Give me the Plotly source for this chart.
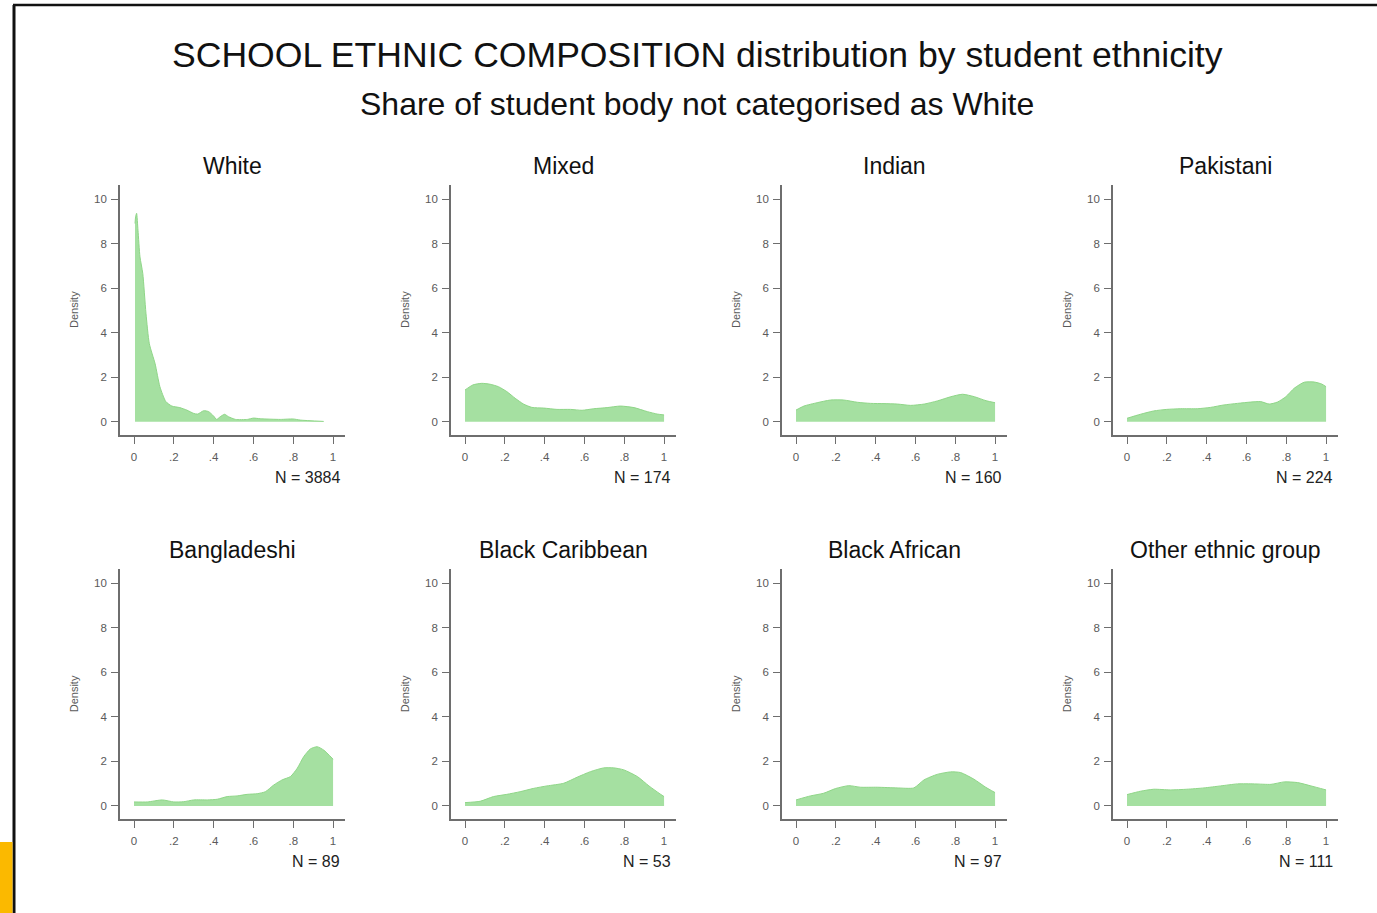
import plotly.graph_objects as go

# ---------------- data ----------------
groups = ["White", "Mixed", "Indian", "Pakistani",
          "Bangladeshi", "Black Caribbean", "Black African", "Other ethnic group"]
n_labels = ["N = 3884", "N = 174", "N = 160", "N = 224",
            "N = 89", "N = 53", "N = 97", "N = 111"]

white_x = [0.005, 0.008, 0.013, 0.02, 0.03, 0.044, 0.06, 0.077, 0.106, 0.13, 0.16, 0.19, 0.23,
           0.265, 0.30, 0.32, 0.35, 0.375, 0.40, 0.415, 0.433, 0.455, 0.475, 0.51, 0.57,
           0.60, 0.634, 0.735, 0.80, 0.835, 0.953]
white_y = [8.9, 9.2, 9.36, 8.6, 7.4, 6.66, 4.87, 3.5, 2.6, 1.57, 0.9, 0.7, 0.63,
           0.52, 0.37, 0.34, 0.49, 0.45, 0.25, 0.1, 0.22, 0.33, 0.22, 0.1, 0.1,
           0.16, 0.13, 0.1, 0.12, 0.07, 0.01]

mixed_x = [0.0, 0.04, 0.084, 0.126, 0.168, 0.21, 0.252, 0.294, 0.336, 0.395, 0.462, 0.53,
           0.588, 0.647, 0.714, 0.78, 0.849, 0.916, 0.966, 1.0]
mixed_y = [1.42, 1.65, 1.72, 1.68, 1.57, 1.35, 1.05, 0.79, 0.64, 0.61, 0.55, 0.55,
           0.51, 0.58, 0.63, 0.70, 0.63, 0.45, 0.34, 0.30]

indian_x = [0.0, 0.04, 0.106, 0.173, 0.24, 0.308, 0.375, 0.442, 0.51, 0.576, 0.644, 0.71,
            0.778, 0.837, 0.896, 0.955, 1.0]
indian_y = [0.52, 0.70, 0.85, 0.97, 0.97, 0.87, 0.82, 0.81, 0.79, 0.73, 0.79, 0.93,
            1.12, 1.23, 1.12, 0.94, 0.85]

pakistani_x = [0.0, 0.067, 0.134, 0.2, 0.27, 0.353, 0.42, 0.487, 0.555, 0.622, 0.672, 0.714,
               0.756, 0.798, 0.84, 0.89, 0.94, 0.978, 1.0]
pakistani_y = [0.15, 0.33, 0.48, 0.55, 0.58, 0.58, 0.64, 0.75, 0.82, 0.88, 0.90, 0.79,
               0.88, 1.12, 1.50, 1.77, 1.78, 1.69, 1.57]

bangladeshi_x = [0.0, 0.067, 0.142, 0.2, 0.25, 0.3, 0.368, 0.418, 0.468, 0.518, 0.568, 0.619,
                 0.66, 0.702, 0.744, 0.786, 0.82, 0.853, 0.886, 0.92, 0.953, 1.0]
bangladeshi_y = [0.18, 0.18, 0.27, 0.18, 0.19, 0.27, 0.27, 0.30, 0.42, 0.45, 0.52, 0.55,
                 0.64, 0.94, 1.17, 1.32, 1.69, 2.22, 2.56, 2.66, 2.51, 2.10]

blackcar_x = [0.0, 0.076, 0.143, 0.21, 0.277, 0.345, 0.412, 0.496, 0.563, 0.63, 0.697, 0.748,
              0.798, 0.866, 0.924, 0.975, 1.0]
blackcar_y = [0.15, 0.21, 0.42, 0.52, 0.64, 0.79, 0.90, 1.02, 1.29, 1.54, 1.71, 1.71,
              1.62, 1.32, 0.90, 0.57, 0.42]

blackafr_x = [0.0, 0.072, 0.139, 0.198, 0.265, 0.324, 0.408, 0.508, 0.592, 0.643, 0.71, 0.777,
              0.827, 0.894, 0.953, 1.0]
blackafr_y = [0.27, 0.45, 0.57, 0.78, 0.91, 0.84, 0.84, 0.81, 0.81, 1.17, 1.42, 1.53,
              1.50, 1.20, 0.84, 0.60]

other_x = [0.0, 0.067, 0.134, 0.218, 0.3, 0.387, 0.47, 0.555, 0.64, 0.723, 0.79, 0.857,
           0.924, 1.0]
other_y = [0.51, 0.66, 0.75, 0.72, 0.75, 0.81, 0.90, 0.99, 0.99, 0.97, 1.08, 1.05,
           0.90, 0.72]

series_x = [white_x, mixed_x, indian_x, pakistani_x, bangladeshi_x, blackcar_x, blackafr_x, other_x]
series_y = [white_y, mixed_y, indian_y, pakistani_y, bangladeshi_y, blackcar_y, blackafr_y, other_y]

x_tickvals = [0, 0.2, 0.4, 0.6, 0.8, 1]
x_ticktext = ["0", ".2", ".4", ".6", ".8", "1"]
y_tickvals = [0, 2, 4, 6, 8, 10]
y_ticktext = ["0", "2", "4", "6", "8", "10"]

title_text = "SCHOOL ETHNIC COMPOSITION distribution by student ethnicity"
subtitle_text = "Share of student body not categorised as White"

# ---------------- layout geometry (pixels) ----------------
W, H = 1377, 913
FONT = "Liberation Sans, Arial, sans-serif"
AXIS_COL = "#6e6e6e"
TICK_FONT_COL = "#5a5a5a"
FILL = "rgba(160,222,156,0.95)"
EDGE = "#8fd688"

def px(x):
    return x / W

def py(y):
    return 1 - y / H

fig = go.Figure()
annotations = []

for i, g in enumerate(groups):
    r, c = divmod(i, 4)
    left = 120 + 331 * c
    right = left + 225
    top = 185 + 384.3 * r
    bottom = top + 250
    k = i + 1
    xa = "x" if k == 1 else f"x{k}"
    ya = "y" if k == 1 else f"y{k}"

    fig.add_trace(go.Scatter(
        x=series_x[i], y=series_y[i], mode="lines", fill="tozeroy",
        fillcolor=FILL, line=dict(color=EDGE, width=1, shape="spline", smoothing=0.6),
        xaxis=xa, yaxis=ya, showlegend=False, hoverinfo="skip"))

    axis_common = dict(showline=True, linecolor=AXIS_COL, linewidth=1.6,
                       ticks="outside", ticklen=7, tickwidth=1.4, tickcolor=AXIS_COL,
                       showgrid=False, zeroline=False,
                       tickfont=dict(family=FONT, size=11.5, color=TICK_FONT_COL),
                       fixedrange=True)
    fig.update_layout({
        f"xaxis{'' if k == 1 else k}": dict(
            domain=[px(left), px(right)], anchor=ya, range=[-0.0704, 1.060],
            tickvals=x_tickvals, ticktext=x_ticktext, ticklabelstandoff=3, **axis_common),
        f"yaxis{'' if k == 1 else k}": dict(
            domain=[py(bottom), py(top)], anchor=xa, range=[-0.6, 10.63],
            tickvals=y_tickvals, ticktext=y_ticktext, ticklabelstandoff=2, **axis_common),
    })

    # panel title
    annotations.append(dict(text=g, x=px((left + right) / 2), y=py(top - 19),
                            xref="paper", yref="paper", showarrow=False,
                            xanchor="center", yanchor="middle",
                            font=dict(family=FONT, size=23, color="#111111")))
    # Density label
    annotations.append(dict(text="Density", x=px(left - 46), y=py((top + bottom) / 2),
                            xref="paper", yref="paper", showarrow=False, textangle=-90,
                            xanchor="center", yanchor="middle",
                            font=dict(family=FONT, size=11, color=TICK_FONT_COL)))
    # N label
    annotations.append(dict(text=n_labels[i], x=px(right - 3), y=py(bottom + 42),
                            xref="paper", yref="paper", showarrow=False,
                            xanchor="right", yanchor="middle",
                            font=dict(family=FONT, size=16, color="#222222")))

annotations.append(dict(text=title_text, x=px(697.5), y=py(55), xref="paper", yref="paper",
                        showarrow=False, xanchor="center", yanchor="middle",
                        font=dict(family=FONT, size=35.6, color="#111111")))
annotations.append(dict(text=subtitle_text, x=px(697), y=py(104), xref="paper", yref="paper",
                        showarrow=False, xanchor="center", yanchor="middle",
                        font=dict(family=FONT, size=32, color="#111111")))

shapes = [
    # screenshot frame: top and left black borders, orange block
    dict(type="line", xref="paper", yref="paper", x0=px(13), x1=1, y0=py(5), y1=py(5),
         line=dict(color="#111111", width=2.5)),
    dict(type="line", xref="paper", yref="paper", x0=px(14), x1=px(14), y0=py(5), y1=0,
         line=dict(color="#111111", width=3)),
    dict(type="rect", xref="paper", yref="paper", x0=0, x1=px(12.5), y0=0, y1=py(842),
         line=dict(width=0), fillcolor="#fbb900"),
]

fig.update_layout(width=W, height=H, margin=dict(l=0, r=0, t=0, b=0),
                  paper_bgcolor="white", plot_bgcolor="white",
                  annotations=annotations, shapes=shapes,
                  font=dict(family=FONT))

fig.write_html("out.html", config={"displayModeBar": False},
               post_script="document.body.style.margin='0';document.body.style.overflow='hidden';")
